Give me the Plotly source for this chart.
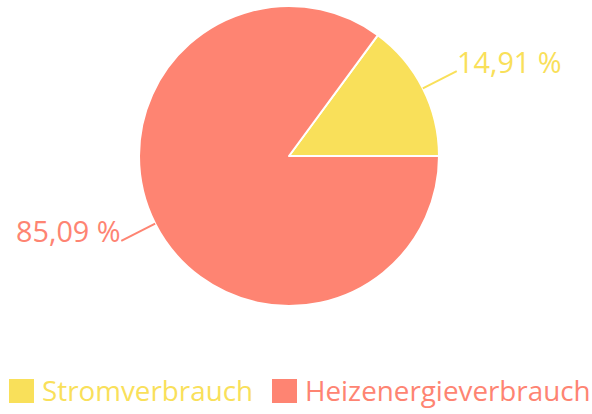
import math
import plotly.graph_objects as go

labels = ["Stromverbrauch", "Heizenergieverbrauch"]
values = [14.91, 85.09]
colors = ["#F9E05A", "#FE8472"]
label_texts = ["14,91 %", "85,09 %"]

W, H = 592, 414
cx, cy, R = 289, 156, 150
FONT = "Open Sans"

def px(x):
    return x / W

def py(y):
    return 1 - y / H

total = sum(values)
# first slice spans from 3 o'clock counterclockwise
rot = 90 - values[0] / total * 360

fig = go.Figure(go.Pie(
    labels=labels, values=values, sort=False, direction="counterclockwise",
    rotation=rot, textinfo="none", hoverinfo="label+percent",
    marker=dict(colors=colors, line=dict(color="white", width=2)),
    domain=dict(x=[px(cx - R), px(cx + R)], y=[py(cy + R), py(cy - R)]),
    showlegend=False,
))

shapes = []
annotations = []
cum = 0
for lab, v, col, txt in zip(labels, values, colors, label_texts):
    mid = (cum + v / 2) / total * 2 * math.pi
    cum += v
    ux, uy = math.cos(mid), -math.sin(mid)
    x0, y0 = cx + R * ux, cy + R * uy
    x1, y1 = cx + (R + 38) * ux, cy + (R + 38) * uy
    shapes.append(dict(type="line", xref="paper", yref="paper",
                       x0=px(x0), y0=py(y0), x1=px(x1), y1=py(y1),
                       line=dict(color=col, width=2)))
    right = ux >= 0
    annotations.append(dict(
        xref="paper", yref="paper", x=px(x1 + (-2 if right else 2)), y=py(y1 - 10),
        xanchor="left" if right else "right", yanchor="middle",
        text=txt, showarrow=False, font=dict(family=FONT, size=28.8, color=col)))

# manual legend
leg_x = [9, 272]
for lab, col, lx in zip(labels, colors, leg_x):
    shapes.append(dict(type="rect", xref="paper", yref="paper",
                       x0=px(lx), x1=px(lx + 25), y0=py(403), y1=py(379),
                       fillcolor=col, line=dict(width=0)))
    annotations.append(dict(
        xref="paper", yref="paper", x=px(lx + 31), y=py(390),
        xanchor="left", yanchor="middle", text=lab, showarrow=False,
        font=dict(family=FONT, size=27.8, color=col)))

fig.update_layout(
    width=W, height=H, margin=dict(l=0, r=0, t=0, b=0),
    paper_bgcolor="white", plot_bgcolor="white",
    shapes=shapes, annotations=annotations,
)
fig.write_html("out.html", config={"displayModeBar": False},
               post_script="document.body.style.margin='0';")
